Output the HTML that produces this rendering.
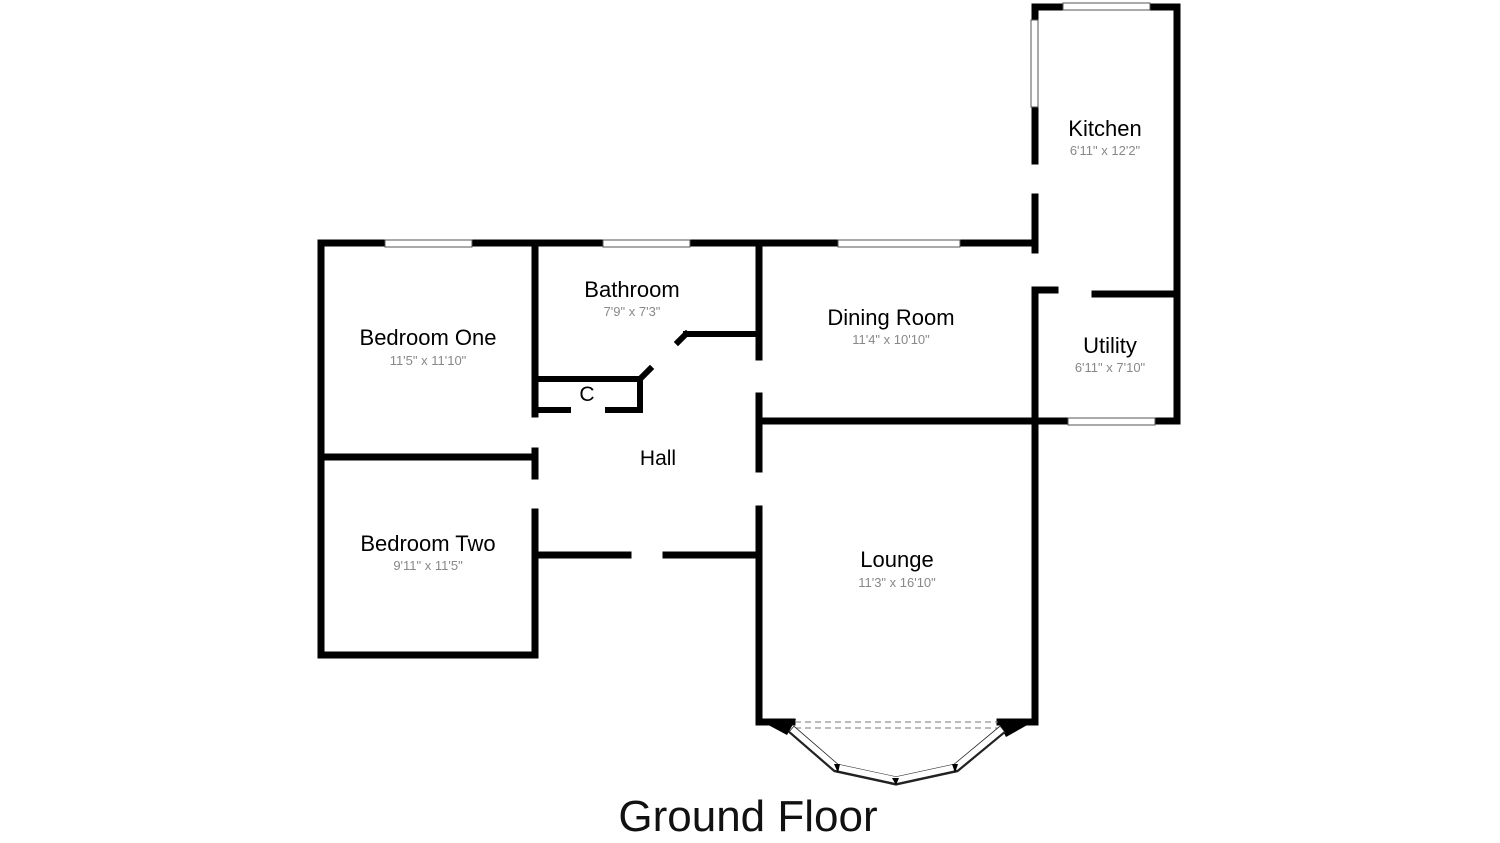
<!DOCTYPE html>
<html><head><style>html,body{margin:0;padding:0;background:#fff}svg{display:block}</style></head>
<body>
<svg width="1500" height="843" viewBox="0 0 1500 843" xmlns="http://www.w3.org/2000/svg">
<g stroke="#000" fill="none" stroke-linecap="square">
<g stroke-width="7">
<path d="M321 243 H1035"/>
<path d="M321 243 V655 H535 V512"/>
<path d="M535 243 V414"/>
<path d="M535 451 V476"/>
<path d="M321 457 H535"/>
<path d="M759 243 V357"/>
<path d="M759 396 V469"/>
<path d="M759 509 V722"/>
<path d="M759 722 H792"/>
<path d="M1000 722 H1035 V290"/>
<path d="M1035 290 H1055"/>
<path d="M1095 294 H1177"/>
<path d="M1035 250 V197"/>
<path d="M1035 161 V7 H1177 V421 H1035"/>
<path d="M759 421 H1035"/>
<path d="M538 555 H628"/>
<path d="M666 555 H759"/>
</g>
<g stroke-width="6">
<path d="M686 334 H759"/>
<path d="M686 334 L678 342"/>
<path d="M538 379 H640 V410 H608"/>
<path d="M568 410 H538"/>
<path d="M640 379 L650 369"/>
</g>
</g>
<polygon points="757,719 796,719 787,735" fill="#000"/>
<polygon points="997,719 1038,719 1006,737" fill="#000"/>
<g fill="#fff" stroke="#555" stroke-width="1">
<rect x="385" y="240" width="87" height="7"/>
<rect x="603" y="240" width="87" height="7"/>
<rect x="838" y="240" width="122" height="7"/>
<rect x="1063" y="3" width="87" height="7"/>
<rect x="1031" y="20" width="7" height="87"/>
<rect x="1068" y="418" width="87" height="7"/>
</g>
<path d="M795 722 H998 M795 728 H998" stroke="#777" stroke-width="1" stroke-dasharray="6,4"/>
<g stroke="#222" stroke-width="9" fill="none" stroke-linejoin="miter">
<polyline points="791,729 836,768 896,781 956,768 1003,729"/>
</g>
<g stroke="#fff" stroke-width="6" fill="none" stroke-linejoin="miter">
<polyline points="792,729 836,767 896,780 956,767 1002,729"/>
</g>
<g fill="#000">
<polygon points="834,764 840,764 838,773"/>
<polygon points="892,778 899,778 896,785"/>
<polygon points="952,764 958,764 955,773"/>
</g>
<g fill="#000" font-family="Liberation Sans, sans-serif" text-anchor="middle">
<text x="428" y="345" font-size="22">Bedroom One</text>
<text x="428" y="365" font-size="13" fill="#888">11'5" x 11'10"</text>
<text x="428" y="551" font-size="22">Bedroom Two</text>
<text x="428" y="570" font-size="13" fill="#888">9'11" x 11'5"</text>
<text x="632" y="297" font-size="22">Bathroom</text>
<text x="632" y="316" font-size="13" fill="#888">7'9" x 7'3"</text>
<text x="587" y="401" font-size="21">C</text>
<text x="658" y="465" font-size="21">Hall</text>
<text x="891" y="325" font-size="22">Dining Room</text>
<text x="891" y="344" font-size="13" fill="#888">11'4" x 10'10"</text>
<text x="897" y="567" font-size="22">Lounge</text>
<text x="897" y="587" font-size="13" fill="#888">11'3" x 16'10"</text>
<text x="1105" y="136" font-size="22">Kitchen</text>
<text x="1105" y="155" font-size="13" fill="#888">6'11" x 12'2"</text>
<text x="1110" y="353" font-size="22">Utility</text>
<text x="1110" y="372" font-size="13" fill="#888">6'11" x 7'10"</text>
<text x="748" y="831" font-size="44" fill="#111">Ground Floor</text>
</g>
</svg>
</body></html>
